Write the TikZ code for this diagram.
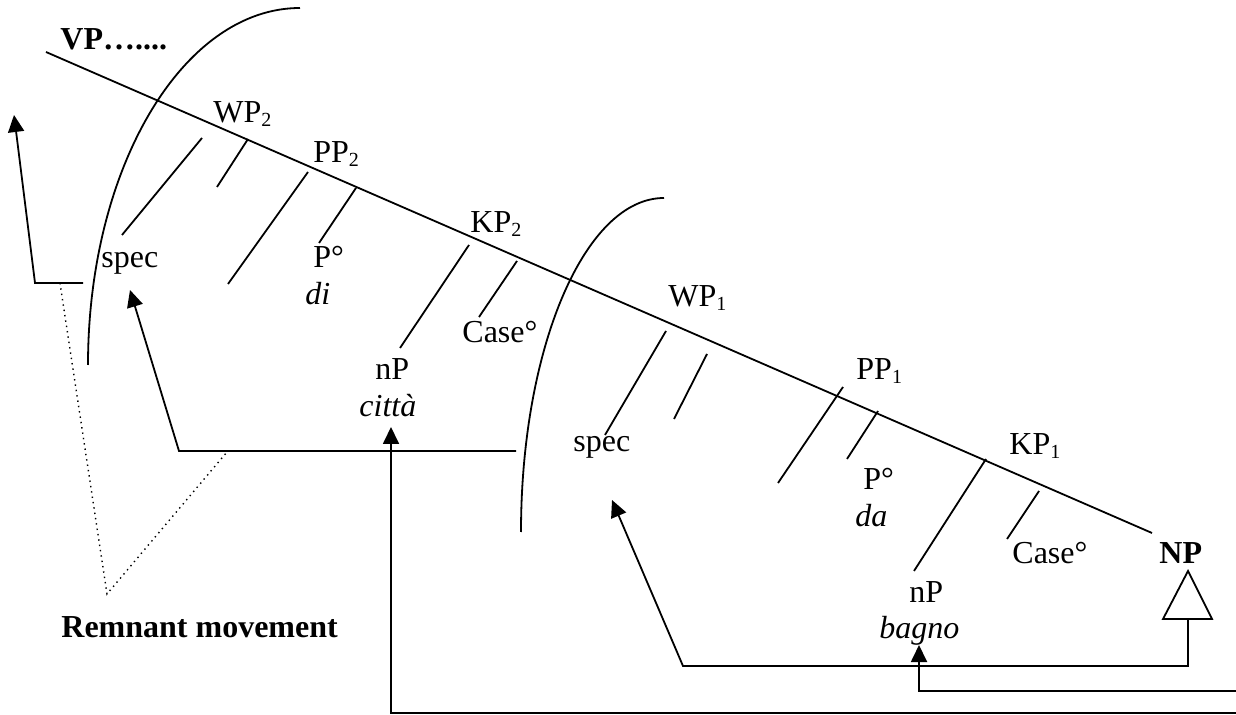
\documentclass[tikz,border=0pt]{standalone}
\usepackage{fontspec}
\setmainfont{Liberation Serif}
\usetikzlibrary{arrows.meta}
\tikzstyle{page} = [x = 0.5pt, y = -0.5pt, every node/.style={inner sep = 0pt, anchor = base west, font = \fontsize{16}{19}\selectfont}]
\tikzstyle{treeLine} = [line width = 0.9pt]
\tikzstyle{boundaryArc} = [line width = 0.9pt]
\tikzstyle{moveArrow} = [line width = 0.9pt, -{Triangle[length = 8.5pt, width = 8pt]}]
\tikzstyle{remnantLine} = [line width = 0.7pt, dotted]
\newcommand{\phraseSub}[1]{\raisebox{-2pt}{\fontsize{10}{12}\selectfont #1}}
\newcommand{\branch}[3]{
  \coordinate (#1Top) at (#2);
  \coordinate (#1Bottom) at (#3);
  \draw [treeLine] (#1Top) -- (#1Bottom);
}
\newcommand{\boundary}[4]{
  \coordinate (#1) at (#2);
  \draw [boundaryArc] (#1) arc [start angle = -90, end angle = -180, x radius = #3, y radius = #4];
}

\begin{document}
\begin{tikzpicture}[page]
  \useasboundingbox (0,0) rectangle (1236,715);

  % spine
  \coordinate (spineTop) at (46,52);
  \coordinate (spineBottom) at (1152,533);
  \draw [treeLine] (spineTop) -- (spineBottom);

  % phase boundaries
  \boundary{arcTwoTop}{300,8}{212}{357}
  \boundary{arcOneTop}{664,198}{143}{334}

  % upper phrase
  \node (vpText) at (60,50) {\textbf{VP…....}};
  \node (wpTwoText) at (213,123) {WP\phraseSub{2}};
  \node (ppTwoText) at (313,163) {PP\phraseSub{2}};
  \node (kpTwoText) at (470,233) {KP\phraseSub{2}};
  \node (specTwoText) at (101,268) {spec};
  \node (pTwoText) at (313,268) {P°};
  \node (diText) at (305,305) {\itshape di};
  \node (caseTwoText) at (462,343) {Case°};
  \node (npTwoText) at (375,380) {nP};
  \node (cittaText) at (359,417) {\itshape città};

  \branch{specTwo}{202,138}{122,235}
  \branch{wpTwoBar}{248,139}{217,187}
  \branch{ppTwoComp}{308,172}{228,284}
  \branch{pTwo}{356,188}{319,243}
  \branch{npTwo}{469,245}{400,348}
  \branch{caseTwo}{517,261}{479,317}

  % lower phrase
  \node (wpOneText) at (668,307) {WP\phraseSub{1}};
  \node (specOneText) at (573,452) {spec};
  \node (ppOneText) at (856,380) {PP\phraseSub{1}};
  \node (pOneText) at (863,490) {P°};
  \node (daText) at (855,527) {\itshape da};
  \node (kpOneText) at (1009,455) {KP\phraseSub{1}};
  \node (caseOneText) at (1012,563) {Case°};
  \node (npText) at (1159,563) {\textbf{NP}};
  \node (npOneText) at (909,602) {nP};
  \node (bagnoText) at (879,638) {\itshape bagno};

  \branch{specOne}{666,331}{605,435}
  \branch{wpOneBar}{707,354}{674,419}
  \branch{ppOneComp}{843,387}{778,483}
  \branch{pOne}{878,411}{847,459}
  \branch{npOne}{986,459}{914,571}
  \branch{caseOne}{1039,491}{1007,539}

  % NP triangle
  \coordinate (npApex) at (1188,571);
  \coordinate (npLeft) at (1163,619);
  \coordinate (npRight) at (1212,619);
  \coordinate (npFoot) at (1188,619);
  \draw [treeLine] (npApex) -- (npRight) -- (npLeft) -- cycle;

  % movements
  \node [anchor = base west] (remnantText) at (61,637) {\textbf{Remnant movement}};
  \coordinate (remnantStart) at (83,283);
  \coordinate (remnantTarget) at (14,115);
  \draw [moveArrow] (remnantStart) -- ++(-48,0) -- (remnantTarget);

  \coordinate (remnantLeft) at (60,283);
  \coordinate (remnantApex) at (107,594);
  \coordinate (remnantRight) at (227,452);
  \draw [remnantLine] (remnantLeft) -- (remnantApex) -- (remnantRight);

  \coordinate (wpTwoStart) at (516,451);
  \coordinate (wpTwoTarget) at (130,290);
  \draw [moveArrow] (wpTwoStart) -- ++(-337,0) -- (wpTwoTarget);

  \coordinate (wpOneTarget) at (612,500);
  \draw [moveArrow] (npFoot) -- ++(0,47) -- ++(-505,0) -- (wpOneTarget);

  \coordinate (bagnoStart) at (1236,691);
  \coordinate (bagnoTarget) at (919,645);
  \draw [moveArrow] (bagnoStart) -- ++(-317,0) -- (bagnoTarget);

  \coordinate (cittaStart) at (1236,713);
  \coordinate (cittaTarget) at (391,427);
  \draw [moveArrow] (cittaStart) -- ++(-845,0) -- (cittaTarget);
\end{tikzpicture}
\end{document}
